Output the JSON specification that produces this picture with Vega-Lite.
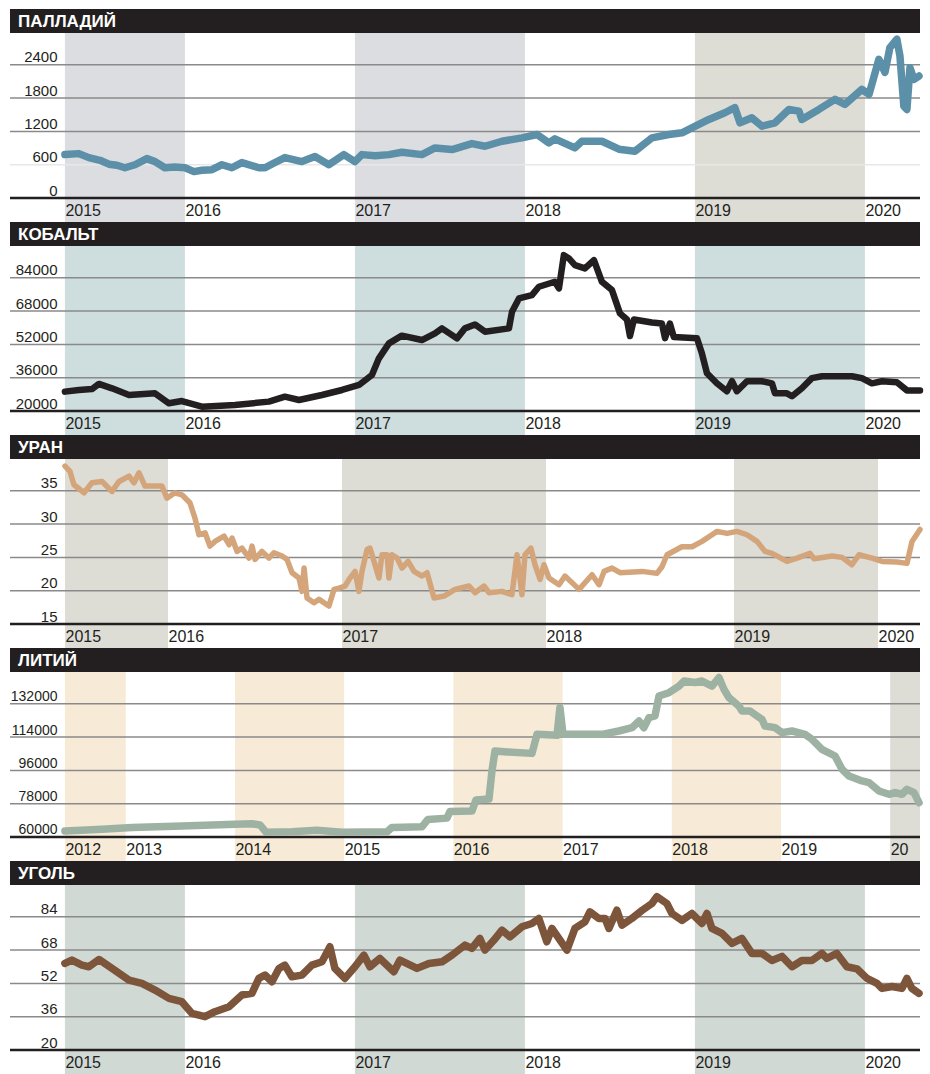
{
 "$schema": "https://vega.github.io/schema/vega-lite/v6.json",
 "background": "white",
 "padding": {"left": 8, "top": 9, "right": 12, "bottom": 0},
 "spacing": 0,
 "bounds": "flush",
 "resolve": {"scale": {"color": "independent"}},
 "config": {
  "view": {"stroke": null},
  "axis": {"domain": false, "ticks": false, "tickSize": 0, "grid": false, "labelOverlap": false, "labelBound": false, "labelFlush": false, "labelColor": "#231f20"},
  "axisX": {"labelAlign": "left", "labelBaseline": "alphabetic", "labelPadding": -7, "labelFont": "Liberation Sans", "labelFontSize": 16},
  "axisY": {"labelAlign": "right", "labelBaseline": "alphabetic", "labelPadding": -47, "labelOffset": -3, "labelFont": "Liberation Sans", "labelFontSize": 15}
 },
 "datasets": {
  "pal": [{"t":2015.294,"v":782},{"t":2015.376,"v":800},{"t":2015.435,"v":728},{"t":2015.5,"v":680},{"t":2015.553,"v":610},{"t":2015.6,"v":590},{"t":2015.647,"v":545},{"t":2015.706,"v":600},{"t":2015.776,"v":710},{"t":2015.824,"v":656},{"t":2015.882,"v":545},{"t":2015.94,"v":560},{"t":2016.0,"v":545},{"t":2016.053,"v":476},{"t":2016.1,"v":500},{"t":2016.159,"v":511},{"t":2016.218,"v":600},{"t":2016.276,"v":545},{"t":2016.335,"v":638},{"t":2016.435,"v":545},{"t":2016.471,"v":545},{"t":2016.53,"v":640},{"t":2016.588,"v":728},{"t":2016.688,"v":656},{"t":2016.765,"v":746},{"t":2016.847,"v":600},{"t":2016.935,"v":782},{"t":2017.0,"v":656},{"t":2017.041,"v":782},{"t":2017.12,"v":760},{"t":2017.2,"v":782},{"t":2017.276,"v":824},{"t":2017.394,"v":782},{"t":2017.471,"v":903},{"t":2017.571,"v":873},{"t":2017.688,"v":981},{"t":2017.765,"v":933},{"t":2017.865,"v":1023},{"t":2017.982,"v":1084},{"t":2018.071,"v":1145},{"t":2018.141,"v":994},{"t":2018.176,"v":1066},{"t":2018.294,"v":903},{"t":2018.335,"v":1023},{"t":2018.453,"v":1023},{"t":2018.553,"v":880},{"t":2018.647,"v":843},{"t":2018.747,"v":1084},{"t":2018.847,"v":1145},{"t":2018.924,"v":1175},{"t":2018.982,"v":1265},{"t":2019.082,"v":1415},{"t":2019.176,"v":1536},{"t":2019.235,"v":1627},{"t":2019.265,"v":1355},{"t":2019.335,"v":1446},{"t":2019.394,"v":1295},{"t":2019.471,"v":1355},{"t":2019.553,"v":1596},{"t":2019.612,"v":1566},{"t":2019.629,"v":1415},{"t":2019.729,"v":1596},{"t":2019.824,"v":1777},{"t":2019.882,"v":1687},{"t":2019.982,"v":1958},{"t":2020.024,"v":1867},{"t":2020.082,"v":2500},{"t":2020.118,"v":2264},{"t":2020.147,"v":2711},{"t":2020.188,"v":2861},{"t":2020.206,"v":2560},{"t":2020.229,"v":1656},{"t":2020.247,"v":1596},{"t":2020.265,"v":2349},{"t":2020.288,"v":2138},{"t":2020.318,"v":2198}],
  "cob": [{"t":2015.294,"v":29300},{"t":2015.376,"v":30100},{"t":2015.453,"v":30560},{"t":2015.494,"v":33000},{"t":2015.571,"v":30900},{"t":2015.671,"v":27700},{"t":2015.824,"v":28500},{"t":2015.906,"v":23700},{"t":2015.982,"v":24800},{"t":2016.1,"v":22100},{"t":2016.294,"v":22900},{"t":2016.494,"v":24500},{"t":2016.588,"v":26900},{"t":2016.671,"v":25300},{"t":2016.806,"v":27700},{"t":2016.924,"v":30100},{"t":2017.024,"v":32500},{"t":2017.1,"v":37300},{"t":2017.141,"v":45300},{"t":2017.2,"v":52500},{"t":2017.276,"v":56200},{"t":2017.394,"v":54100},{"t":2017.471,"v":57300},{"t":2017.512,"v":59700},{"t":2017.6,"v":54900},{"t":2017.647,"v":59700},{"t":2017.706,"v":61600},{"t":2017.765,"v":58100},{"t":2017.906,"v":59700},{"t":2017.924,"v":67700},{"t":2017.965,"v":74100},{"t":2018.041,"v":75700},{"t":2018.082,"v":79700},{"t":2018.176,"v":82100},{"t":2018.2,"v":78900},{"t":2018.229,"v":94900},{"t":2018.259,"v":93300},{"t":2018.294,"v":90100},{"t":2018.353,"v":88500},{"t":2018.406,"v":92500},{"t":2018.453,"v":82100},{"t":2018.512,"v":78100},{"t":2018.559,"v":66900},{"t":2018.6,"v":64000},{"t":2018.618,"v":56000},{"t":2018.641,"v":64000},{"t":2018.747,"v":62500},{"t":2018.806,"v":62000},{"t":2018.824,"v":55000},{"t":2018.853,"v":62000},{"t":2018.876,"v":55500},{"t":2019.012,"v":55000},{"t":2019.041,"v":47700},{"t":2019.071,"v":38100},{"t":2019.129,"v":33300},{"t":2019.188,"v":29500},{"t":2019.218,"v":34300},{"t":2019.247,"v":29500},{"t":2019.306,"v":34300},{"t":2019.394,"v":34300},{"t":2019.453,"v":33300},{"t":2019.471,"v":28500},{"t":2019.541,"v":28500},{"t":2019.571,"v":27100},{"t":2019.629,"v":30900},{"t":2019.688,"v":35800},{"t":2019.747,"v":36700},{"t":2019.924,"v":36700},{"t":2019.982,"v":35800},{"t":2020.041,"v":33300},{"t":2020.1,"v":34300},{"t":2020.188,"v":33800},{"t":2020.247,"v":29900},{"t":2020.324,"v":29900}],
  "ura": [{"t":2015.4,"v":38.7},{"t":2015.429,"v":37.9},{"t":2015.452,"v":35.9},{"t":2015.511,"v":34.7},{"t":2015.557,"v":36.2},{"t":2015.616,"v":36.4},{"t":2015.674,"v":34.9},{"t":2015.715,"v":36.4},{"t":2015.773,"v":37.2},{"t":2015.802,"v":36.2},{"t":2015.831,"v":37.7},{"t":2015.866,"v":35.7},{"t":2015.965,"v":35.7},{"t":2015.994,"v":33.9},{"t":2016.04,"v":34.7},{"t":2016.08,"v":34.4},{"t":2016.126,"v":33.2},{"t":2016.155,"v":30.9},{"t":2016.178,"v":28.4},{"t":2016.213,"v":28.7},{"t":2016.241,"v":26.7},{"t":2016.27,"v":27.4},{"t":2016.322,"v":28.2},{"t":2016.351,"v":26.9},{"t":2016.368,"v":27.9},{"t":2016.397,"v":25.9},{"t":2016.425,"v":26.4},{"t":2016.466,"v":24.9},{"t":2016.483,"v":26.7},{"t":2016.5,"v":24.7},{"t":2016.54,"v":25.9},{"t":2016.58,"v":24.9},{"t":2016.609,"v":25.7},{"t":2016.655,"v":25.2},{"t":2016.684,"v":24.7},{"t":2016.713,"v":22.7},{"t":2016.753,"v":21.9},{"t":2016.77,"v":19.9},{"t":2016.782,"v":23.4},{"t":2016.799,"v":18.9},{"t":2016.839,"v":18.2},{"t":2016.868,"v":18.7},{"t":2016.925,"v":17.7},{"t":2016.954,"v":20.2},{"t":2016.983,"v":20.4},{"t":2017.015,"v":20.7},{"t":2017.039,"v":21.9},{"t":2017.064,"v":22.9},{"t":2017.083,"v":19.9},{"t":2017.098,"v":22.9},{"t":2017.123,"v":26.2},{"t":2017.137,"v":26.4},{"t":2017.157,"v":24.4},{"t":2017.181,"v":21.9},{"t":2017.196,"v":25.4},{"t":2017.221,"v":25.4},{"t":2017.23,"v":21.9},{"t":2017.245,"v":25.4},{"t":2017.27,"v":24.9},{"t":2017.294,"v":23.4},{"t":2017.324,"v":24.4},{"t":2017.353,"v":22.9},{"t":2017.392,"v":22.2},{"t":2017.417,"v":22.7},{"t":2017.451,"v":18.9},{"t":2017.5,"v":19.2},{"t":2017.554,"v":20.2},{"t":2017.623,"v":20.7},{"t":2017.652,"v":19.7},{"t":2017.696,"v":20.7},{"t":2017.721,"v":19.7},{"t":2017.784,"v":19.9},{"t":2017.833,"v":19.4},{"t":2017.858,"v":25.4},{"t":2017.882,"v":19.4},{"t":2017.897,"v":25.4},{"t":2017.926,"v":26.4},{"t":2017.946,"v":23.9},{"t":2017.971,"v":21.7},{"t":2017.99,"v":23.9},{"t":2018.016,"v":21.9},{"t":2018.069,"v":20.9},{"t":2018.101,"v":22.2},{"t":2018.176,"v":20.2},{"t":2018.245,"v":22.4},{"t":2018.282,"v":20.9},{"t":2018.309,"v":22.9},{"t":2018.351,"v":23.4},{"t":2018.394,"v":22.7},{"t":2018.511,"v":22.9},{"t":2018.59,"v":22.6},{"t":2018.617,"v":23.6},{"t":2018.644,"v":25.4},{"t":2018.723,"v":26.6},{"t":2018.777,"v":26.6},{"t":2018.83,"v":27.4},{"t":2018.883,"v":28.4},{"t":2018.91,"v":28.9},{"t":2018.963,"v":28.6},{"t":2019.021,"v":28.9},{"t":2019.09,"v":28.4},{"t":2019.16,"v":27.4},{"t":2019.215,"v":25.9},{"t":2019.264,"v":25.6},{"t":2019.368,"v":24.4},{"t":2019.438,"v":24.9},{"t":2019.528,"v":25.6},{"t":2019.556,"v":24.8},{"t":2019.681,"v":25.2},{"t":2019.75,"v":25.0},{"t":2019.819,"v":23.9},{"t":2019.868,"v":25.4},{"t":2019.958,"v":24.9},{"t":2020.029,"v":24.4},{"t":2020.136,"v":24.3},{"t":2020.207,"v":24.1},{"t":2020.243,"v":27.4},{"t":2020.3,"v":29.2}],
  "lit": [{"t":2012.443,"v":63200},{"t":2012.782,"v":64200},{"t":2013.057,"v":65100},{"t":2013.515,"v":66000},{"t":2014.0,"v":66900},{"t":2014.156,"v":67200},{"t":2014.229,"v":66500},{"t":2014.284,"v":62600},{"t":2014.522,"v":62800},{"t":2014.751,"v":63600},{"t":2014.98,"v":62600},{"t":2015.392,"v":62800},{"t":2015.438,"v":65200},{"t":2015.712,"v":65500},{"t":2015.767,"v":69500},{"t":2015.941,"v":70200},{"t":2015.969,"v":73800},{"t":2016.17,"v":74000},{"t":2016.207,"v":80000},{"t":2016.326,"v":80500},{"t":2016.353,"v":95500},{"t":2016.381,"v":106500},{"t":2016.491,"v":106000},{"t":2016.72,"v":105200},{"t":2016.766,"v":115500},{"t":2016.949,"v":115000},{"t":2016.976,"v":130000},{"t":2017.004,"v":115500},{"t":2017.361,"v":115500},{"t":2017.516,"v":117300},{"t":2017.636,"v":119100},{"t":2017.7,"v":122700},{"t":2017.745,"v":119100},{"t":2017.791,"v":124500},{"t":2017.846,"v":125400},{"t":2017.883,"v":136200},{"t":2017.974,"v":138000},{"t":2018.066,"v":141600},{"t":2018.112,"v":144300},{"t":2018.212,"v":143500},{"t":2018.277,"v":144300},{"t":2018.368,"v":141600},{"t":2018.432,"v":146200},{"t":2018.478,"v":139800},{"t":2018.524,"v":135300},{"t":2018.615,"v":130800},{"t":2018.643,"v":128100},{"t":2018.716,"v":128100},{"t":2018.826,"v":123600},{"t":2018.853,"v":120000},{"t":2018.945,"v":119100},{"t":2019.009,"v":116400},{"t":2019.101,"v":117300},{"t":2019.22,"v":115500},{"t":2019.284,"v":112800},{"t":2019.375,"v":107400},{"t":2019.495,"v":103800},{"t":2019.559,"v":96600},{"t":2019.623,"v":93000},{"t":2019.742,"v":90300},{"t":2019.806,"v":89400},{"t":2019.897,"v":84900},{"t":2019.989,"v":83100},{"t":2020.044,"v":84000},{"t":2020.108,"v":83100},{"t":2020.154,"v":85800},{"t":2020.218,"v":84000},{"t":2020.264,"v":78600}],
  "coal": [{"t":2015.294,"v":61.6},{"t":2015.335,"v":63.2},{"t":2015.394,"v":60.8},{"t":2015.435,"v":60.0},{"t":2015.494,"v":63.5},{"t":2015.571,"v":59.2},{"t":2015.671,"v":53.6},{"t":2015.747,"v":52.0},{"t":2015.824,"v":48.8},{"t":2015.906,"v":44.8},{"t":2015.982,"v":43.2},{"t":2016.041,"v":37.6},{"t":2016.118,"v":36.0},{"t":2016.176,"v":38.4},{"t":2016.259,"v":40.8},{"t":2016.335,"v":46.4},{"t":2016.394,"v":47.2},{"t":2016.435,"v":54.4},{"t":2016.471,"v":56.0},{"t":2016.512,"v":52.8},{"t":2016.553,"v":59.2},{"t":2016.588,"v":60.8},{"t":2016.629,"v":55.2},{"t":2016.688,"v":56.0},{"t":2016.747,"v":60.8},{"t":2016.806,"v":62.4},{"t":2016.853,"v":69.6},{"t":2016.882,"v":59.2},{"t":2016.941,"v":54.4},{"t":2017.0,"v":60.0},{"t":2017.053,"v":65.6},{"t":2017.088,"v":60.0},{"t":2017.147,"v":64.0},{"t":2017.229,"v":57.6},{"t":2017.265,"v":63.2},{"t":2017.365,"v":59.2},{"t":2017.435,"v":61.6},{"t":2017.512,"v":62.4},{"t":2017.571,"v":65.6},{"t":2017.647,"v":70.4},{"t":2017.688,"v":68.8},{"t":2017.735,"v":73.6},{"t":2017.765,"v":68.0},{"t":2017.818,"v":72.8},{"t":2017.865,"v":77.6},{"t":2017.912,"v":74.4},{"t":2017.982,"v":79.2},{"t":2018.041,"v":80.8},{"t":2018.082,"v":83.2},{"t":2018.129,"v":72.0},{"t":2018.159,"v":78.4},{"t":2018.247,"v":68.0},{"t":2018.294,"v":78.4},{"t":2018.353,"v":81.6},{"t":2018.382,"v":86.4},{"t":2018.435,"v":83.2},{"t":2018.471,"v":83.2},{"t":2018.494,"v":78.4},{"t":2018.541,"v":87.2},{"t":2018.571,"v":80.0},{"t":2018.629,"v":83.2},{"t":2018.688,"v":87.0},{"t":2018.747,"v":90.4},{"t":2018.776,"v":93.7},{"t":2018.835,"v":90.4},{"t":2018.865,"v":85.6},{"t":2018.924,"v":82.3},{"t":2018.982,"v":85.6},{"t":2019.041,"v":80.8},{"t":2019.071,"v":85.6},{"t":2019.1,"v":78.4},{"t":2019.159,"v":76.0},{"t":2019.218,"v":71.2},{"t":2019.276,"v":73.6},{"t":2019.335,"v":66.4},{"t":2019.394,"v":66.4},{"t":2019.453,"v":63.0},{"t":2019.512,"v":65.0},{"t":2019.571,"v":60.0},{"t":2019.629,"v":63.0},{"t":2019.688,"v":63.0},{"t":2019.747,"v":66.4},{"t":2019.776,"v":64.0},{"t":2019.835,"v":66.4},{"t":2019.894,"v":60.0},{"t":2019.953,"v":59.0},{"t":2020.012,"v":54.4},{"t":2020.071,"v":52.0},{"t":2020.1,"v":49.6},{"t":2020.159,"v":50.5},{"t":2020.218,"v":49.6},{"t":2020.247,"v":54.4},{"t":2020.276,"v":49.6},{"t":2020.318,"v":47.2}],
  "pal_b": [{"t0":2015.294,"t1":2016,"s":"a"},{"t0":2017,"t1":2018,"s":"a"},{"t0":2019,"t1":2020,"s":"b"}],
  "cob_b": [{"t0":2015.294,"t1":2016,"s":"a"},{"t0":2017,"t1":2018,"s":"a"},{"t0":2019,"t1":2020,"s":"a"}],
  "ura_b": [{"t0":2015.4,"t1":2016,"s":"a"},{"t0":2017,"t1":2018,"s":"a"},{"t0":2019,"t1":2020,"s":"a"}],
  "lit_b": [{"t0":2012.443,"t1":2013,"s":"a"},{"t0":2014,"t1":2015,"s":"a"},{"t0":2016,"t1":2017,"s":"a"},{"t0":2018,"t1":2019,"s":"a"},{"t0":2020,"t1":2020.273,"s":"b"}],
  "coal_b": [{"t0":2015.294,"t1":2016,"s":"a"},{"t0":2017,"t1":2018,"s":"a"},{"t0":2019,"t1":2020,"s":"a"}],
  "pal_g": [{"g":0},{"g":600},{"g":1200},{"g":1800},{"g":2400}],
  "cob_g": [{"g":20000},{"g":36000},{"g":52000},{"g":68000},{"g":84000}],
  "ura_g": [{"g":15},{"g":20},{"g":25},{"g":30},{"g":35}],
  "lit_g": [{"g":60000},{"g":78000},{"g":96000},{"g":114000},{"g":132000}],
  "coal_g": [{"g":20},{"g":36},{"g":52},{"g":68},{"g":84}]
 },
 "vconcat": [
  {"width": 910, "height": 24, "view": {"fill": "#231f20", "stroke": null},
   "data": {"values": [{"n": "ПАЛЛАДИЙ"}]},
   "mark": {"type": "text", "align": "left", "baseline": "middle", "dx": 8, "dy": 1, "color": "#ffffff", "font": "Liberation Sans", "fontSize": 17, "fontWeight": "bold"},
   "encoding": {"text": {"field": "n"}, "x": {"datum": 0, "type": "quantitative", "scale": {"domain": [0, 1]}, "axis": null}}},
  {"width": 910, "height": 189,
   "layer": [
    {"data": {"name": "pal_b"}, "mark": "rect",
     "encoding": {"x": {"field": "t0", "type": "quantitative", "title": null, "scale": {"domain": [2014.971, 2020.324], "nice": false, "zero": false}, "axis": {"values": [2015.294, 2016, 2017, 2018, 2019, 2020], "labelExpr": "'' + floor(datum.value)", "zindex": 1, "labelOverlap": false, "labelFlush": false}},
      "x2": {"field": "t1"},
      "color": {"field": "s", "type": "nominal", "legend": null, "scale": {"domain": ["a", "b"], "range": ["#dcdde0", "#dddcd5"]}}}},
    {"data": {"name": "pal_g"}, "mark": "rule",
     "encoding": {"y": {"field": "g", "type": "quantitative", "title": null, "scale": {"domain": [-432, 2973], "nice": false, "zero": false}, "axis": {"values": [0, 600, 1200, 1800, 2400], "format": "d", "zindex": 1, "labelOverlap": false}},
      "color": {"condition": [{"test": "datum.g === 0", "value": "#231f20"}, {"test": "datum.g === 600", "value": "#e8e8e8"}], "value": "#8a8a8a"},
      "strokeWidth": {"condition": {"test": "datum.g === 0", "value": 2.5}, "value": 1.5}}},
    {"data": {"name": "pal"}, "mark": {"type": "line", "color": "#5c90a8", "strokeWidth": 7.5, "strokeCap": "round", "strokeJoin": "round"},
     "encoding": {"x": {"field": "t", "type": "quantitative", "title": null}, "y": {"field": "v", "type": "quantitative", "title": null}}}
   ]},
  {"width": 910, "height": 24, "view": {"fill": "#231f20", "stroke": null},
   "data": {"values": [{"n": "КОБАЛЬТ"}]},
   "mark": {"type": "text", "align": "left", "baseline": "middle", "dx": 8, "dy": 1, "color": "#ffffff", "font": "Liberation Sans", "fontSize": 17, "fontWeight": "bold"},
   "encoding": {"text": {"field": "n"}, "x": {"datum": 0, "type": "quantitative", "scale": {"domain": [0, 1]}, "axis": null}}},
  {"width": 910, "height": 189,
   "layer": [
    {"data": {"name": "cob_b"}, "mark": "rect",
     "encoding": {"x": {"field": "t0", "type": "quantitative", "title": null, "scale": {"domain": [2014.971, 2020.324], "nice": false, "zero": false}, "axis": {"values": [2015.294, 2016, 2017, 2018, 2019, 2020], "labelExpr": "'' + floor(datum.value)", "zindex": 1, "labelOverlap": false, "labelFlush": false}},
      "x2": {"field": "t1"},
      "color": {"field": "s", "type": "nominal", "legend": null, "scale": {"domain": ["a"], "range": ["#cedddd"]}}}},
    {"data": {"name": "cob_g"}, "mark": "rule",
     "encoding": {"y": {"field": "g", "type": "quantitative", "title": null, "scale": {"domain": [8469, 99279], "nice": false, "zero": false}, "axis": {"values": [20000, 36000, 52000, 68000, 84000], "format": "d", "zindex": 1, "labelOverlap": false}},
      "color": {"condition": {"test": "datum.g === 20000", "value": "#231f20"}, "value": "#8a8a8a"},
      "strokeWidth": {"condition": {"test": "datum.g === 20000", "value": 2.5}, "value": 1.5}}},
    {"data": {"name": "cob"}, "mark": {"type": "line", "color": "#231f20", "strokeWidth": 6.5, "strokeCap": "round", "strokeJoin": "round"},
     "encoding": {"x": {"field": "t", "type": "quantitative", "title": null}, "y": {"field": "v", "type": "quantitative", "title": null}}}
   ]},
  {"width": 910, "height": 24, "view": {"fill": "#231f20", "stroke": null},
   "data": {"values": [{"n": "УРАН"}]},
   "mark": {"type": "text", "align": "left", "baseline": "middle", "dx": 8, "dy": 1, "color": "#ffffff", "font": "Liberation Sans", "fontSize": 17, "fontWeight": "bold"},
   "encoding": {"text": {"field": "n"}, "x": {"datum": 0, "type": "quantitative", "scale": {"domain": [0, 1]}, "axis": null}}},
  {"width": 910, "height": 189,
   "layer": [
    {"data": {"name": "ura_b"}, "mark": "rect",
     "encoding": {"x": {"field": "t0", "type": "quantitative", "title": null, "scale": {"domain": [2015.0, 2015.4, 2016, 2017, 2018, 2019, 2020, 2020.3], "range": [0, 55, 158, 332, 536, 724, 868, 910], "nice": false, "zero": false}, "axis": {"values": [2015.4, 2016, 2017, 2018, 2019, 2020], "labelExpr": "'' + floor(datum.value)", "zindex": 1, "labelOverlap": false, "labelFlush": false}},
      "x2": {"field": "t1"},
      "color": {"field": "s", "type": "nominal", "legend": null, "scale": {"domain": ["a"], "range": ["#dddcd5"]}}}},
    {"data": {"name": "ura_g"}, "mark": "rule",
     "encoding": {"y": {"field": "g", "type": "quantitative", "title": null, "scale": {"domain": [11.4, 39.77], "nice": false, "zero": false}, "axis": {"values": [15, 20, 25, 30, 35], "format": "d", "zindex": 1, "labelOverlap": false}},
      "color": {"condition": {"test": "datum.g === 15", "value": "#231f20"}, "value": "#8a8a8a"},
      "strokeWidth": {"condition": {"test": "datum.g === 15", "value": 2.5}, "value": 1.5}}},
    {"data": {"name": "ura"}, "mark": {"type": "line", "color": "#d4a57a", "strokeWidth": 5.5, "strokeCap": "round", "strokeJoin": "round"},
     "encoding": {"x": {"field": "t", "type": "quantitative", "title": null}, "y": {"field": "v", "type": "quantitative", "title": null}}}
   ]},
  {"width": 910, "height": 24, "view": {"fill": "#231f20", "stroke": null},
   "data": {"values": [{"n": "ЛИТИЙ"}]},
   "mark": {"type": "text", "align": "left", "baseline": "middle", "dx": 8, "dy": 1, "color": "#ffffff", "font": "Liberation Sans", "fontSize": 17, "fontWeight": "bold"},
   "encoding": {"text": {"field": "n"}, "x": {"datum": 0, "type": "quantitative", "scale": {"domain": [0, 1]}, "axis": null}}},
  {"width": 910, "height": 189,
   "layer": [
    {"data": {"name": "lit_b"}, "mark": "rect",
     "encoding": {"x": {"field": "t0", "type": "quantitative", "title": null, "scale": {"domain": [2011.94, 2020.273], "nice": false, "zero": false}, "axis": {"values": [2012.443, 2013, 2014, 2015, 2016, 2017, 2018, 2019, 2020], "labelExpr": "datum.value >= 2020 ? '20' : '' + floor(datum.value)", "zindex": 1, "labelOverlap": false, "labelFlush": false}},
      "x2": {"field": "t1"},
      "color": {"field": "s", "type": "nominal", "legend": null, "scale": {"domain": ["a", "b"], "range": ["#f7ebd7", "#dddcd5"]}}}},
    {"data": {"name": "lit_g"}, "mark": "rule",
     "encoding": {"y": {"field": "g", "type": "quantitative", "title": null, "scale": {"domain": [47027, 149189], "nice": false, "zero": false}, "axis": {"values": [60000, 78000, 96000, 114000, 132000], "format": "d", "zindex": 1, "labelOverlap": false, "labelFontSize": 14}},
      "color": {"condition": {"test": "datum.g === 60000", "value": "#231f20"}, "value": "#8a8a8a"},
      "strokeWidth": {"condition": {"test": "datum.g === 60000", "value": 2.5}, "value": 1.5}}},
    {"data": {"name": "lit"}, "mark": {"type": "line", "color": "#9eb2a3", "strokeWidth": 7.5, "strokeCap": "round", "strokeJoin": "round"},
     "encoding": {"x": {"field": "t", "type": "quantitative", "title": null}, "y": {"field": "v", "type": "quantitative", "title": null}}}
   ]},
  {"width": 910, "height": 24, "view": {"fill": "#231f20", "stroke": null},
   "data": {"values": [{"n": "УГОЛЬ"}]},
   "mark": {"type": "text", "align": "left", "baseline": "middle", "dx": 8, "dy": 1, "color": "#ffffff", "font": "Liberation Sans", "fontSize": 17, "fontWeight": "bold"},
   "encoding": {"text": {"field": "n"}, "x": {"datum": 0, "type": "quantitative", "scale": {"domain": [0, 1]}, "axis": null}}},
  {"width": 910, "height": 189,
   "layer": [
    {"data": {"name": "coal_b"}, "mark": "rect",
     "encoding": {"x": {"field": "t0", "type": "quantitative", "title": null, "scale": {"domain": [2014.971, 2020.324], "nice": false, "zero": false}, "axis": {"values": [2015.294, 2016, 2017, 2018, 2019, 2020], "labelExpr": "'' + floor(datum.value)", "zindex": 1, "labelOverlap": false, "labelFlush": false}},
      "x2": {"field": "t1"},
      "color": {"field": "s", "type": "nominal", "legend": null, "scale": {"domain": ["a"], "range": ["#d1d9d5"]}}}},
    {"data": {"name": "coal_g"}, "mark": "rule",
     "encoding": {"y": {"field": "g", "type": "quantitative", "title": null, "scale": {"domain": [8.47, 99.28], "nice": false, "zero": false}, "axis": {"values": [20, 36, 52, 68, 84], "format": "d", "zindex": 1, "labelOverlap": false}},
      "color": {"condition": {"test": "datum.g === 20", "value": "#231f20"}, "value": "#8a8a8a"},
      "strokeWidth": {"condition": {"test": "datum.g === 20", "value": 2.5}, "value": 1.5}}},
    {"data": {"name": "coal"}, "mark": {"type": "line", "color": "#7d553a", "strokeWidth": 7.5, "strokeCap": "round", "strokeJoin": "round"},
     "encoding": {"x": {"field": "t", "type": "quantitative", "title": null}, "y": {"field": "v", "type": "quantitative", "title": null}}}
   ]}
 ]
}
